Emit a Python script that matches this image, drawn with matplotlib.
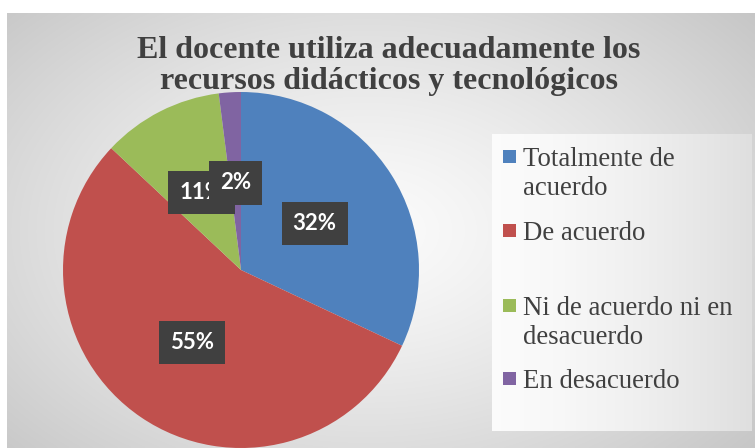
import numpy as np
import matplotlib
matplotlib.use("Agg")
import matplotlib.pyplot as plt
from matplotlib.patches import Rectangle

# ---- data ----
categories = ["Totalmente de acuerdo", "De acuerdo",
              "Ni de acuerdo ni en desacuerdo", "En desacuerdo"]
legend_labels = ["Totalmente de\nacuerdo", "De acuerdo",
                 "Ni de acuerdo ni en\ndesacuerdo", "En desacuerdo"]
values = [32, 55, 11, 2]
colors = ["#4f81bd", "#c0504d", "#9bbb59", "#8064a2"]
title = "El docente utiliza adecuadamente los\nrecursos didácticos y tecnológicos"

W, H = 755, 448
fig = plt.figure(figsize=(W / 100, H / 100), dpi=100)
fig.patch.set_facecolor("white")

def px_axes(x0, y0, x1, y1, **kw):
    """axes from pixel box (top-left origin)."""
    return fig.add_axes([x0 / W, (H - y1) / H, (x1 - x0) / W, (y1 - y0) / H], **kw)

# ---- chart background radial gradient ----
bg = px_axes(7, 13, W, H)
bg.set_axis_off()
ny, nx = 200, 300
yy, xx = np.mgrid[0:ny, 0:nx]
cx, cy = nx * 0.48, ny * 0.50
d = np.sqrt(((xx - cx) / (nx * 0.55)) ** 2 + ((yy - cy) / (ny * 0.62)) ** 2)
d = np.clip(d, 0, 1.25) / 1.25
val = 0.985 - 0.21 * d ** 1.3
bg.imshow(np.dstack([val, val, val]), aspect="auto", extent=[0, 1, 0, 1],
          interpolation="bilinear")
bg.set_xlim(0, 1); bg.set_ylim(0, 1)

# ---- legend box gradient ----
lg = px_axes(492, 134, 752, 431)
lg.set_axis_off()
g = np.linspace(0, 1, 200)[None, :]
lv = 0.985 - 0.11 * g ** 1.5
lv = np.repeat(lv, 10, axis=0)
lg.imshow(np.dstack([lv, lv, lv]), aspect="auto", extent=[0, 1, 0, 1],
          interpolation="bilinear")
lg.set_xlim(0, 1); lg.set_ylim(0, 1)

# ---- pie ----
cxp, cyp, R = 241, 270, 178
ax = px_axes(cxp - R, cyp - R, cxp + R, cyp + R)
ax.patch.set_visible(False)
wedges, texts, autotexts = ax.pie(
    values, colors=colors, startangle=90, counterclock=False,
    autopct=lambda p: f"{p:.0f}%", pctdistance=0.49,
    wedgeprops=dict(linewidth=0),
    textprops=dict(color="white", fontsize=16, fontweight="bold",
                   family=["Lato", "DejaVu Sans"]))
for t in autotexts:
    t.set_bbox(dict(boxstyle="square,pad=0.5", fc="#404040", ec="none"))
ax.set_xlim(-1, 1)
ax.set_ylim(-1, 1)
ax.set_aspect("auto")

# ---- title ----
for i, line in enumerate(title.split("\n")):
    fig.text(389 / W, 1 - (58 + i * 31) / H, line, ha="center", va="baseline",
             fontsize=23, fontweight="bold", color="#404040",
             family=["Liberation Serif", "DejaVu Serif"])

# ---- legend (manual) ----
first_baselines = [166, 240, 315, 388]
line_gap = 29
for lab, col, yb in zip(legend_labels, colors, first_baselines):
    fig.patches.append(Rectangle((503 / W, 1 - (yb - 3) / H), 13 / W, 13 / H,
                                 transform=fig.transFigure, fc=col, ec="none"))
    for i, line in enumerate(lab.split("\n")):
        fig.text(523 / W, 1 - (yb + i * line_gap) / H, line, ha="left",
                 va="baseline", fontsize=19.3, color="#404040",
                 family=["Liberation Serif", "DejaVu Serif"])

fig.savefig("out.png", dpi=100)
